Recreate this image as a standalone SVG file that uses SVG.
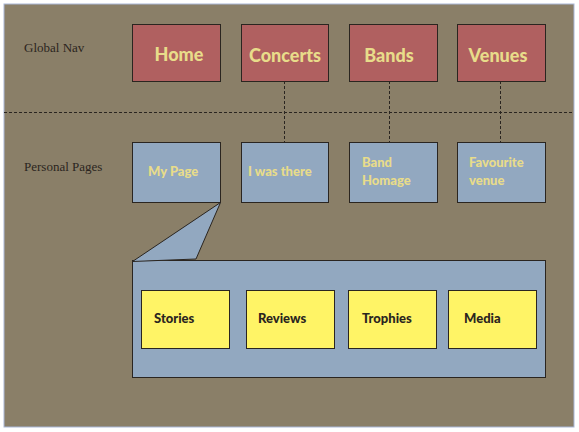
<svg xmlns="http://www.w3.org/2000/svg" width="579" height="432" viewBox="0 0 579 432">
<style>
.lbl{font-family:"Liberation Serif",serif;font-size:13px;fill:#2a2520}
.nav rect{fill:#B06060;stroke:#2a2520;stroke-width:1}
.nav text{font-family:"Lato","Liberation Sans",sans-serif;font-weight:900;font-size:18px;fill:#E8DC8A;text-anchor:middle}
.pp rect{fill:#92A8C0;stroke:#2a2520;stroke-width:1}
.pp text{font-family:"Lato","Liberation Sans",sans-serif;font-weight:900;font-size:13px;fill:#E8DC8A}
.sub rect{fill:#FFF466;stroke:#2a2520;stroke-width:1}
.sub text{font-family:"Lato","Liberation Sans",sans-serif;font-weight:900;font-size:13px;fill:#2a2520}
.conn line{stroke:#2a2520;stroke-width:1;stroke-dasharray:3,2}
</style>
<rect x="0" y="0" width="579" height="432" fill="#ffffff"/>
<rect x="4" y="4" width="570" height="423" fill="#8A7F68" stroke="#A9B8D8" stroke-width="1"/>
<text class="lbl" x="24" y="52">Global Nav</text>
<text class="lbl" x="24" y="171">Personal Pages</text>
<g class="conn">
<line x1="4" y1="112.5" x2="574" y2="112.5" stroke-dasharray="5,3"/>
<line x1="284.5" y1="81" x2="284.5" y2="142"/>
<line x1="389.5" y1="81" x2="389.5" y2="142"/>
<line x1="500.5" y1="81" x2="500.5" y2="142"/>
</g>
<g class="nav">
<g id="home"><rect x="132.5" y="24.5" width="88" height="57" stroke="#9A5858"/><text x="179" y="61">Home</text></g>
<g id="concerts"><rect x="241.5" y="24.5" width="87" height="57"/><text x="285" y="62">Concerts</text></g>
<g id="bands"><rect x="349.5" y="24.5" width="88" height="57"/><text x="389" y="62">Bands</text></g>
<g id="venues"><rect x="457.5" y="24.5" width="88" height="57"/><text x="498" y="62">Venues</text></g>
</g>
<g class="pp">
<g id="mypage"><rect x="132.5" y="142.5" width="88" height="60"/><text x="148" y="176">My Page</text></g>
<g id="iwasthere"><rect x="241.5" y="142.5" width="87" height="60"/><text x="248" y="176">I was there</text></g>
<g id="bandhomage"><rect x="349.5" y="142.5" width="88" height="60"/><text x="362" y="167">Band</text><text x="362" y="185">Homage</text></g>
<g id="favourite"><rect x="457.5" y="142.5" width="88" height="60"/><text x="469" y="167">Favourite</text><text x="469" y="185">venue</text></g>
</g>
<g id="panel">
<rect x="132.5" y="260.5" width="413" height="117" fill="#92A8C0" stroke="#2a2520"/>
<polygon points="220.5,202.5 132.5,261.5 196,259" fill="#92A8C0" stroke="#2a2520" stroke-width="1" stroke-linejoin="round"/>
</g>
<g class="sub">
<g id="stories"><rect x="141.5" y="290.5" width="88" height="58"/><text x="154" y="323">Stories</text></g>
<g id="reviews"><rect x="246.5" y="290.5" width="88" height="58"/><text x="258" y="323">Reviews</text></g>
<g id="trophies"><rect x="348.5" y="290.5" width="88" height="58"/><text x="362" y="323">Trophies</text></g>
<g id="media"><rect x="448.5" y="290.5" width="88" height="58"/><text x="464" y="323">Media</text></g>
</g>
</svg>
